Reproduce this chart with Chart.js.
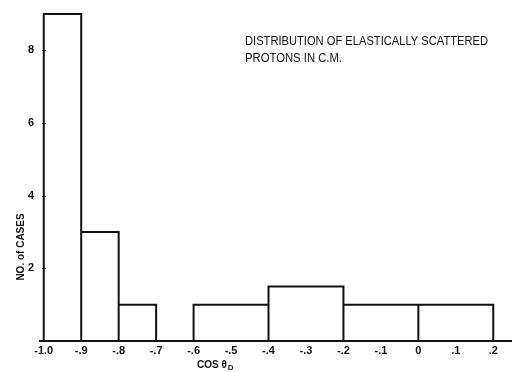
<!DOCTYPE html>
<html>
<head>
<meta charset="utf-8">
<title>Distribution of elastically scattered protons</title>
<script src="https://cdn.jsdelivr.net/npm/chart.js@4"></script>
<style>
  body { margin: 0; background: #fff; }
  canvas { display: block; }
</style>
</head>
<body>
<canvas id="histo" width="512" height="372"></canvas>
<script>
// bins of cos(theta) and number of cases
const binStart = [-1.0, -0.9, -0.8, -0.6, -0.4, -0.2, 0.0];
const binEnd = [-0.9, -0.8, -0.7, -0.4, -0.2, 0.0, 0.2];
const counts = [9, 3, 1, 1, 1.5, 1, 1];

const xTickValues = [-1.0, -0.9, -0.8, -0.7, -0.6, -0.5, -0.4, -0.3, -0.2, -0.1, 0, 0.1, 0.2];
const xTickLabels = ["-1.0", "-.9", "-.8", "-.7", "-.6", "-.5", "-.4", "-.3", "-.2", "-.1", "0", ".1", ".2"];
const yTickValues = [2, 4, 6, 8];
const yTickLabels = ["2", "4", "6", "8"];

const titleLines = ["DISTRIBUTION OF ELASTICALLY SCATTERED", "PROTONS IN C.M."];
const yTitle = "NO. of CASES";

const ink = "#111";

// outline of each bar, broken by a null point so bars are drawn separately
const outline = [];
binStart.forEach((lo, i) => {
  const hi = binEnd[i];
  const h = counts[i];
  outline.push({ x: lo, y: 0 }, { x: lo, y: h }, { x: hi, y: h }, { x: hi, y: 0 }, { x: hi, y: null });
});

const textPlugin = {
  id: "handText",
  afterDraw(chart) {
    const ctx = chart.ctx;
    const xs = chart.scales.x;
    const ys = chart.scales.y;
    ctx.save();
    ctx.fillStyle = ink;
    ctx.textBaseline = "middle";

    // note in the top right
    ctx.font = '12px "Liberation Sans", Arial, sans-serif';
    ctx.textAlign = "left";
    ctx.fillText(titleLines[0], 245, 42, 243);
    ctx.fillText(titleLines[1], 245, 58.5, 97);

    // x title: COS theta with subscript D
    ctx.font = 'bold 10px "Liberation Sans", Arial, sans-serif';
    ctx.fillText("COS θ", 197, 365);
    const w = ctx.measureText("COS θ").width;
    ctx.font = 'bold 8px "Liberation Sans", Arial, sans-serif';
    ctx.fillText("D", 197 + w + 1, 368);

    // y title, rotated
    ctx.translate(21.5, 247);
    ctx.rotate(-Math.PI / 2);
    ctx.textAlign = "center";
    ctx.font = 'bold 10px "Liberation Sans", Arial, sans-serif';
    ctx.fillText(yTitle, 0, 0, 74);
    ctx.restore();

    // little tick marks on the left side
    ctx.save();
    ctx.strokeStyle = ink;
    ctx.lineWidth = 1;
    yTickValues.forEach((v) => {
      const py = Math.round(ys.getPixelForValue(v)) + 0.5;
      const px = xs.getPixelForValue(-1.0);
      ctx.beginPath();
      ctx.moveTo(px - 2, py);
      ctx.lineTo(px + 2, py);
      ctx.stroke();
    });
    ctx.restore();
  }
};

new Chart(document.getElementById("histo"), {
  type: "line",
  data: {
    datasets: [{
      data: outline,
      borderColor: ink,
      borderWidth: 2,
      pointRadius: 0,
      tension: 0,
      fill: false,
      spanGaps: false,
      clip: false
    }]
  },
  options: {
    responsive: false,
    animation: false,
    layout: { padding: 0 },
    plugins: {
      legend: { display: false },
      tooltip: { enabled: false }
    },
    scales: {
      x: {
        type: "linear",
        min: -1.01,
        max: 0.25,
        afterBuildTicks: (s) => { s.ticks = xTickValues.map((v) => ({ value: v })); },
        afterFit: (s) => { s.height = 31; },
        grid: { display: false, drawTicks: false },
        border: { display: true, color: ink, width: 2 },
        ticks: {
          callback: (v, i) => xTickLabels[i],
          color: ink,
          font: { family: '"Liberation Sans", Arial, sans-serif', size: 11, weight: "bold" },
          padding: 3,
          maxRotation: 0,
          autoSkip: false
        }
      },
      y: {
        type: "linear",
        min: 0,
        max: 9.04,
        afterBuildTicks: (s) => { s.ticks = yTickValues.map((v) => ({ value: v })); },
        afterFit: (s) => { s.width = 40; },
        grid: { display: false, drawTicks: false },
        border: { display: false },
        ticks: {
          callback: (v, i) => yTickLabels[i],
          color: ink,
          font: { family: '"Liberation Sans", Arial, sans-serif', size: 11, weight: "bold" },
          padding: 6
        }
      }
    }
  },
  plugins: [textPlugin]
});
</script>
</body>
</html>
